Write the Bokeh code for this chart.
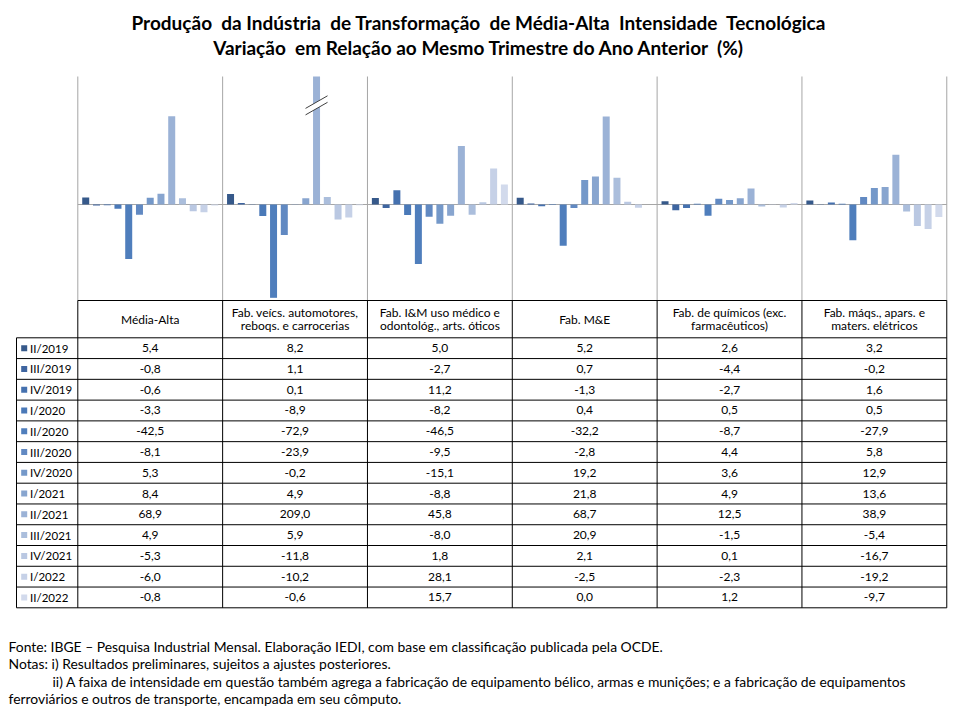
from bokeh.plotting import figure
from bokeh.models import Range1d, ColumnDataSource
from bokeh.core.properties import value
from bokeh.embed import file_html
from bokeh.resources import INLINE
import numpy as np

# ---------------- data ----------------
NB = "\u00a0"
title_lines = ["Produção" + NB + " da Indústria" + NB + " de Transformação" + NB + " de Média-Alta" + NB
               + " Intensidade" + NB + " Tecnológica",
               "Variação" + NB + " em Relação ao Mesmo Trimestre do Ano Anterior" + NB + " (%)"]
categories = [
    ["Média-Alta"],
    ["Fab. veícs. automotores,", "reboqs. e carrocerias"],
    ["Fab. I&M uso médico e", "odontológ., arts. óticos"],
    ["Fab. M&E"],
    ["Fab. de químicos (exc.", "farmacêuticos)"],
    ["Fab. máqs., apars. e", "maters. elétricos"],
]
quarters = ["II/2019", "III/2019", "IV/2019", "I/2020", "II/2020", "III/2020", "IV/2020",
            "I/2021", "II/2021", "III/2021", "IV/2021", "I/2022", "II/2022"]
media_alta = [5.4, -0.8, -0.6, -3.3, -42.5, -8.1, 5.3, 8.4, 68.9, 4.9, -5.3, -6.0, -0.8]
veiculos = [8.2, 1.1, 0.1, -8.9, -72.9, -23.9, -0.2, 4.9, 209.0, 5.9, -11.8, -10.2, -0.6]
im_medico = [5.0, -2.7, 11.2, -8.2, -46.5, -9.5, -15.1, -8.8, 45.8, -8.0, 1.8, 28.1, 15.7]
m_e = [5.2, 0.7, -1.3, 0.4, -32.2, -2.8, 19.2, 21.8, 68.7, 20.9, 2.1, -2.5, 0.0]
quimicos = [2.6, -4.4, -2.7, 0.5, -8.7, 4.4, 3.6, 4.9, 12.5, -1.5, 0.1, -2.3, 1.2]
maquinas = [3.2, -0.2, 1.6, 0.5, -27.9, 5.8, 12.9, 13.6, 38.9, -5.4, -16.7, -19.2, -9.7]
footer_lines = [
    "Fonte: IBGE \u2013 Pesquisa Industrial Mensal. Elaboração IEDI, com base em classificação publicada pela OCDE.",
    "Notas: i) Resultados preliminares, sujeitos a ajustes posteriores.",
    "ii) A faixa de intensidade em questão também agrega a fabricação de equipamento bélico, armas e munições; e a fabricação de equipamentos",
    "ferroviários e outros de transporte, encampada em seu cômputo.",
]
colors = ["#36598A", "#3E65A0", "#4571AF", "#4A79B8", "#4F7EBC", "#6189C2", "#7498C9",
          "#88A5CF", "#9BB2D6", "#ABBEDC", "#BAC8E2", "#C6D1E7", "#D2DAEC"]

series = [media_alta, veiculos, im_medico, m_e, quimicos, maquinas]

# ---------------- geometry ----------------
W, H = 951, 710
cat_left, cat_w = 77.3, 144.83
y_top_val, y_bot_val = 100.0, -75.0
plot_top, plot_bot = 76.0, 300.0
scale = (plot_bot - plot_top) / (y_top_val - y_bot_val)
x0 = (0 - cat_left) / cat_w
x1 = (W - cat_left) / cat_w
y_hi = y_top_val + (plot_top - 0) / scale
y_lo = y_bot_val - (H - plot_bot) / scale

p = figure(width=W, height=H, x_range=Range1d(x0, x1), y_range=Range1d(y_lo, y_hi),
           output_backend="svg", toolbar_location=None, min_border=0)
p.extra_x_ranges = {"px": Range1d(0, W)}
p.extra_y_ranges = {"px": Range1d(H, 0)}
p.axis.visible = False
p.grid.visible = False
p.outline_line_color = None
p.background_fill_color = "white"

ncat = len(series)
nq = len(quarters)
step = 10.75 / cat_w
bw = 7.0 / cat_w

# gray category separators and zero line
p.segment(x0=list(range(ncat + 1)), y0=[y_bot_val] * (ncat + 1),
          x1=list(range(ncat + 1)), y1=[y_top_val] * (ncat + 1),
          line_color="#A6A6A6", line_width=1)
p.segment(x0=[0], y0=[0], x1=[ncat], y1=[0], line_color="#A6A6A6", line_width=1.2)

# bars
for qi in range(nq):
    vals = np.array([s[qi] for s in series])
    xs = np.arange(ncat) + 0.5 + (qi - (nq - 1) / 2) * step
    src = ColumnDataSource(dict(x=xs, top=np.minimum(vals, y_top_val), bottom=np.zeros(ncat)))
    p.vbar(x="x", top="top", bottom="bottom", width=bw, source=src,
           fill_color=colors[qi], line_color=None)

# axis break mark on clipped bars
for ci, s in enumerate(series):
    for qi, v in enumerate(s):
        if v > y_top_val:
            bx = ci + 0.5 + (qi - (nq - 1) / 2) * step
            dx = 11.0 / cat_w
            yc = 80.0
            dy = 6.3 / scale
            gap = 6.5 / scale
            p.patch(x=[bx - dx, bx + dx, bx + dx, bx - dx],
                    y=[yc - dy, yc + dy, yc + dy - gap, yc - dy - gap],
                    fill_color="white", line_color=None)
            p.segment(x0=[bx - dx, bx - dx], y0=[yc - dy, yc - dy - gap],
                      x1=[bx + dx, bx + dx], y1=[yc + dy, yc + dy - gap],
                      line_color="#404040", line_width=1)

# ---------------- table ----------------
hdr_top, hdr_bot = 300.0, 337.3
row_h = 20.77
tbl_bot = hdr_bot + row_h * nq
left_px = 16.0
font = value("Lato")
fsize = "12px"

# horizontal lines
p.segment(x0=[0], y0=[hdr_top], x1=[ncat], y1=[hdr_top], y_range_name="px",
          line_color="black", line_width=1)
row_lines = [hdr_bot + row_h * r for r in range(nq + 1)]
p.segment(x0=[left_px] * len(row_lines), y0=row_lines,
          x1=[cat_left + cat_w * ncat] * len(row_lines), y1=row_lines,
          x_range_name="px", y_range_name="px", line_color="black", line_width=1)
# vertical lines
p.segment(x0=list(range(ncat + 1)), y0=[hdr_top] * (ncat + 1),
          x1=list(range(ncat + 1)), y1=[tbl_bot] * (ncat + 1),
          y_range_name="px", line_color="black", line_width=1)
p.segment(x0=[left_px], y0=[hdr_bot], x1=[left_px], y1=[tbl_bot],
          x_range_name="px", y_range_name="px", line_color="black", line_width=1)

# header texts
hx, hy, ht = [], [], []
for ci, lines in enumerate(categories):
    cy = (hdr_top + hdr_bot) / 2
    if len(lines) == 1:
        hx.append(ci + 0.5); hy.append(cy); ht.append(lines[0])
    else:
        hx += [ci + 0.5, ci + 0.5]; hy += [cy - 6.8, cy + 6.8]; ht += lines
p.text(x=hx, y=hy, text=ht, y_range_name="px", text_align="center", text_baseline="middle",
       text_font=font, text_font_size=fsize, text_color="black")

# values
vx, vy, vt = [], [], []
for ci, s in enumerate(series):
    for qi, v in enumerate(s):
        vx.append(ci + 0.5)
        vy.append(hdr_bot + row_h * (qi + 0.5))
        vt.append(f"{v:.1f}".replace(".", ","))
p.text(x=vx, y=vy, text=vt, y_range_name="px", text_align="center", text_baseline="middle",
       text_font=font, text_font_size=fsize, text_color="black")

# legend keys and quarter labels
ky = [hdr_bot + row_h * (qi + 0.5) for qi in range(nq)]
p.rect(x=[23.7] * nq, y=ky, width=6, height=6, x_range_name="px", y_range_name="px",
       fill_color=colors, line_color=None)
p.text(x=[29.5] * nq, y=ky, text=quarters, x_range_name="px", y_range_name="px",
       text_align="left", text_baseline="middle", text_font=font, text_font_size="11.5px",
       text_color="black")

# ---------------- title ----------------
p.text(x=[478.5, 478.5], y=[22.0, 46.5], text=title_lines, x_range_name="px", y_range_name="px",
       text_align="center", text_baseline="middle", text_font=font, text_font_size="19px",
       text_font_style="bold", text_color="black")

# ---------------- footer ----------------
p.text(x=[8, 8, 52, 8], y=[645.5, 663.0, 680.5, 698.0], text=footer_lines,
       x_range_name="px", y_range_name="px", text_align="left", text_baseline="middle",
       text_font=font, text_font_size="13.9px", text_color="black")

open("out.html", "w").write(file_html(p, INLINE))
